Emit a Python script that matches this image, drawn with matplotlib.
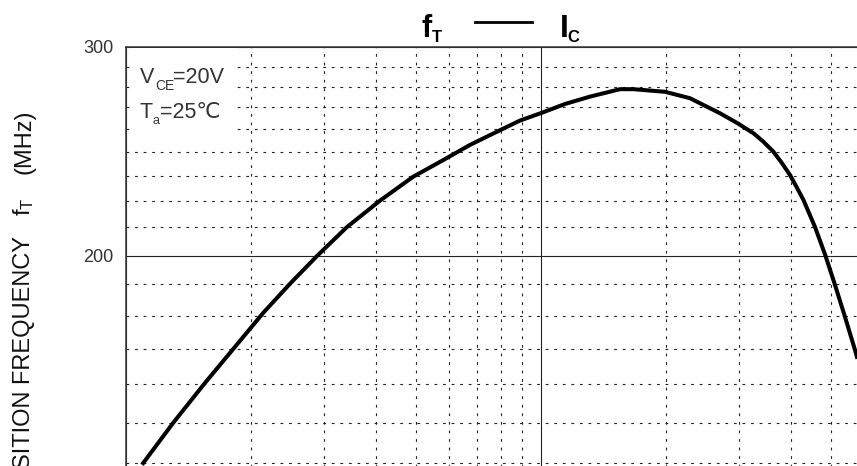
import numpy as np
import matplotlib
matplotlib.use('Agg')
import matplotlib.pyplot as plt
from matplotlib.ticker import FixedLocator, NullFormatter
from matplotlib.patches import Rectangle
from matplotlib.lines import Line2D

plt.rcParams['font.family'] = ['Liberation Sans', 'DejaVu Sans']
plt.rcParams['mathtext.fontset'] = 'custom'
plt.rcParams['mathtext.rm'] = 'Liberation Sans'
plt.rcParams['mathtext.default'] = 'regular'

# f_T - I_C curve (I_C in mA, f_T in MHz)
ic = [1.10, 1.30, 1.55, 1.88, 2.14, 2.49, 2.89, 3.40, 4.09, 4.92, 5.82, 6.74,
      7.75, 8.9, 10.0, 11.43, 13.1, 15.5, 16.7, 19.9, 22.86, 27.0, 29.62, 32.5,
      34.33, 36.3, 38.02, 39.8, 41.32, 42.9, 45.7, 48.4, 51.1, 54.0, 57.1, 57.7]
ft = [133.9, 144.8, 156.4, 169.6, 179.1, 189.7, 200.1, 211.4, 222.6, 233.2, 240.9, 248.0,
      254.0, 260.0, 263.8, 268.5, 272.3, 276.3, 276.3, 274.9, 271.5, 263.7, 258.9, 253.7,
      249.6, 244.8, 239.6, 234.0, 228.5, 222.9, 211.7, 200.4, 189.1, 177.8, 166.7, 164.5]

# grid / ticks
x_major = [1, 10, 100]
x_minor = [2, 3, 4, 5, 6, 7, 8, 9, 20, 30, 40, 50, 60, 70, 80, 90]
y_major = [200, 300]
y_labels = ['200', '300']
y_minor = [134.0, 144.8, 156.0, 167.0, 178.0, 189.3,
           211.6, 222.5, 233.5, 244.6, 255.7, 267.1, 277.5, 288.6]

W, H = 857, 466


def fx(px):
    return px / W


def fy(py):
    return 1 - py / H


fig = plt.figure(figsize=(W / 100, H / 100), dpi=100)
# the chart is cropped: right and bottom parts of the axes lie outside the picture
ax = fig.add_axes([fx(126), fy(613.8), 830 / W, 567.1 / H])
ax.set_xscale('log')
ax.set_yscale('log')
ax.set_xlim(1, 100)
ax.set_ylim(100, 300)

ax.xaxis.set_major_locator(FixedLocator(x_major))
ax.xaxis.set_minor_locator(FixedLocator(x_minor))
ax.xaxis.set_major_formatter(NullFormatter())
ax.xaxis.set_minor_formatter(NullFormatter())
ax.set_yticks(y_major, labels=y_labels)
ax.set_yticks(y_minor, minor=True)
ax.yaxis.set_minor_formatter(NullFormatter())
ax.tick_params(which='both', length=0)
ax.tick_params(axis='y', labelsize=13, pad=9, labelcolor='#333333')

ax.grid(which='major', color='#222222', lw=0.8, ls='-')
ax.grid(which='minor', color='#222222', lw=0.8, ls=(0, (2.5, 5.2)))

for s in ['left', 'top']:
    ax.spines[s].set_linewidth(1.1)
    ax.spines[s].set_color('#333333')

# white box behind the conditions text
ax.add_patch(Rectangle((0.006, 0.8355), 0.1277, 0.163, transform=ax.transAxes,
                       facecolor='white', edgecolor='none', zorder=2))

ax.plot(ic, ft, color='black', lw=2.9, solid_joinstyle='round', zorder=3)

# conditions
tc = '#333333'
fig.text(fx(139.5), fy(83), 'V', fontsize=15.5, color=tc, va='baseline')
fig.text(fx(155), fy(90), 'CE', fontsize=10, color=tc, va='baseline')
fig.text(fx(173), fy(83), '=20V', fontsize=15.5, color=tc, va='baseline')
fig.text(fx(140), fy(118), 'T', fontsize=15.5, color=tc, va='baseline')
fig.text(fx(152.5), fy(124), 'a', fontsize=9, color=tc, va='baseline')
fig.text(fx(160), fy(118), '=25℃', fontsize=15.5, color=tc, va='baseline')

# title f_T —— I_C
fig.text(fx(422), fy(36.7), 'f', fontsize=22, fontweight='bold', va='baseline')
fig.text(fx(432), fy(41.7), 'T', fontsize=12, fontweight='bold', va='baseline')
fig.add_artist(Line2D([fx(475), fx(532)], [fy(21.7), fy(21.7)], color='black', lw=2))
fig.text(fx(559.5), fy(36.7), 'I', fontsize=23, fontweight='bold', va='baseline')
fig.text(fx(567), fy(42), 'C', fontsize=12, fontweight='bold', va='baseline')

# y label (cut off at the left edge, as in the original)
yl = dict(rotation=90, rotation_mode='anchor', ha='right', va='baseline',
          fontsize=17, color='#111111',
          family=['Liberation Sans Narrow', 'Liberation Sans'])
fig.text(fx(30.5), fy(236), 'TRANSITION FREQUENCY', **yl)
fig.text(fx(30.5), fy(197), r'f$_\mathregular{T}$', **yl)
fig.text(fx(30.5), fy(110), '(MHz)', **yl)

fig.savefig('out.png', dpi=100)
